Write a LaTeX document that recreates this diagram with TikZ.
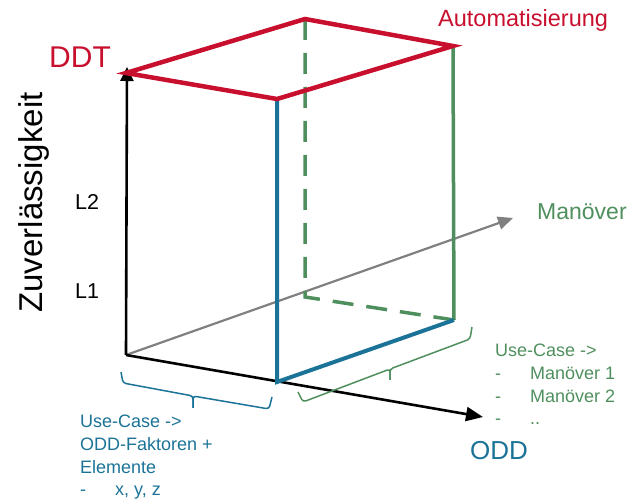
\documentclass[tikz,border=0pt]{standalone}
\usepackage{fontspec}
\setmainfont{Liberation Sans}
\usetikzlibrary{arrows.meta}
\definecolor{ddtred}{HTML}{C8102E}
\definecolor{oddblue}{HTML}{1B7397}
\definecolor{mangreen}{HTML}{4F8F5E}
\definecolor{axisgray}{HTML}{808080}
\tikzstyle{axisline} = [black, line width=2.6pt, -{Triangle[width=13pt,length=14pt]}]
\tikzstyle{manaxis} = [axisgray, line width=2.2pt, -{Triangle[width=13pt,length=15pt]}]
\tikzstyle{redframe} = [ddtred, line width=4.5pt, line join=miter]
\tikzstyle{blueedge} = [oddblue, line width=4pt]
\tikzstyle{greenedge} = [mangreen, line width=3.5pt]
\tikzstyle{greendash} = [mangreen, line width=3.5pt, dash pattern=on 21pt off 13pt]
\tikzstyle{bluebrace} = [oddblue, line width=1.5pt, rounded corners=3pt]
\tikzstyle{greenbrace} = [mangreen, line width=1.5pt, rounded corners=3pt]
\tikzstyle{textlabel} = [inner sep=0pt, anchor=base west]
\tikzstyle{listtext} = [inner sep=0pt, anchor=north west, align=left, font=\fontsize{18}{22.7}\selectfont]

\begin{document}
\begin{tikzpicture}[x=1pt, y=-1pt]
    \useasboundingbox (0,0) rectangle (633,502);

        % Axes
        \coordinate (origin) at (126,355);
        \coordinate (ddttip) at (127,67);
        \coordinate (oddtip) at (483,417);
        \coordinate (mantip) at (513,218);
        \draw [manaxis] (origin) -- (mantip);
        \draw [axisline] (origin) -- (ddttip);
        \draw [axisline, -{Triangle[width=14pt,length=17pt]}] (origin) -- (oddtip);

        % Box corners
        \coordinate (topleft) at (126,73);
        \coordinate (topback) at (305,19);
        \coordinate (topright) at (453,46);
        \coordinate (topfront) at (277,99);
        \coordinate (botback) at (305,297);
        \coordinate (botright) at (454,320);
        \coordinate (botfront) at (277,382);

        % Box edges
        \draw [greendash] (topback) -- (botback) -- (botright);
        \draw [greenedge] (topright) -- (botright);
        \draw [blueedge] (topfront) -- (botfront) -- (botright);
        \draw [redframe] (topleft) -- (topback) -- (topright) -- (topfront) -- cycle;

        % Braces
        \draw [bluebrace] (121,372) -- (123,383) -- (193,396) -- (193,408);
        \draw [bluebrace] (193,408) -- (193,396) -- (269,409) -- (272,397);
        \draw [greenbrace] (298,392) -- (303,402) -- (390,369) -- (390,380);
        \draw [greenbrace] (390,380) -- (390,369) -- (470,339) -- (472,327);

        % Labels
        \node (ddt) [textlabel, ddtred, font=\fontsize{30}{36}\selectfont] at (49,68) {DDT};
        \node (auto) [textlabel, ddtred, font=\fontsize{23.5}{28}\selectfont] at (438,27) {Automatisierung};
        \node (manoever) [textlabel, mangreen, font=\fontsize{23}{28}\selectfont] at (537,220) {Manöver};
        \node (odd) [textlabel, oddblue, font=\fontsize{26}{31}\selectfont] at (470,460) {ODD};
        \node (zuv) [inner sep=0pt, anchor=base, rotate=90, font=\fontsize{33}{40}\selectfont] at (42,202.5) {Zuverlässigkeit};
        \node (ltwo) [textlabel, font=\fontsize{21.5}{26}\selectfont] at (75,210) {L2};
        \node (lone) [textlabel, font=\fontsize{21.5}{26}\selectfont] at (75,299) {L1};
        \node (oddcase) [listtext, oddblue] at (80,415) {Use-Case ->\\ODD-Faktoren +\\Elemente\\\makebox[35pt][l]{-}x, y, z};
        \node (mancase) [listtext, mangreen] at (495,344) {Use-Case ->\\\makebox[35pt][l]{-}Manöver 1\\\makebox[35pt][l]{-}Manöver 2\\\makebox[35pt][l]{-}..};

\end{tikzpicture}
\end{document}
